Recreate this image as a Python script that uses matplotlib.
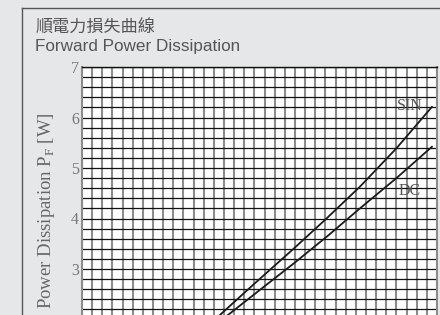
import numpy as np
import matplotlib
matplotlib.use("Agg")
import matplotlib.pyplot as plt
from matplotlib.lines import Line2D

plt.rcParams['mathtext.fontset'] = 'custom'
plt.rcParams['mathtext.rm'] = 'Liberation Serif'

# curve data (x: current, y: power dissipation in W)
x_sin = [2.0, 2.72, 3.4, 4.16, 4.8, 5.48, 6.2, 6.9]
y_sin = [1.45, 2.09, 2.71, 3.39, 3.98, 4.63, 5.39, 6.21]
x_dc = [2.0, 2.88, 3.5, 4.2, 4.85, 5.48, 6.2, 6.9]
y_dc = [1.40, 2.09, 2.58, 3.13, 3.66, 4.20, 4.80, 5.42]

y_ticks = [0, 1, 2, 3, 4, 5, 6, 7]
x_ticks = [0, 1, 2, 3, 4, 5, 6, 7]

title_cn = "順電力損失曲線"
title_en = "Forward Power Dissipation"
ylabel = "Power Dissipation P$_{\\rm F}$ [W]"

bg = "#e6e7e8"
fig = plt.figure(figsize=(4.4, 3.15), dpi=100, facecolor=bg)

# panel frame lines
fig.add_artist(Line2D([22/440, 22/440], [0, 1 - 7.5/315], color="#555555", lw=1.0))
fig.add_artist(Line2D([22/440, 1], [1 - 7.5/315, 1 - 7.5/315], color="#555555", lw=1.0))

fig.text(36/440, 1 - 28/315, title_cn, fontsize=12.3, color="#555555",
         family=['Noto Sans CJK TC', 'DejaVu Sans'], va='center', ha='left')
fig.text(35/440, 1 - 47/315, title_en, fontsize=12.3, color="#555555",
         family='Liberation Sans', va='center', ha='left')

# axes runs below the bottom of the picture (y = 0 is cut off)
ax_top = 1 - 67/315
ax_h = 7 * 50.5 / 315
ax = fig.add_axes([82/440, ax_top - ax_h, 355/440, ax_h])
ax.set_facecolor("white")
ax.set_xlim(0, 7)
ax.set_ylim(0, 7)

ax.set_xticks(x_ticks)
ax.set_yticks(y_ticks)
ax.set_xticks(np.arange(0, 7.01, 0.2), minor=True)
ax.set_yticks(np.arange(0, 7.01, 0.2), minor=True)
ax.tick_params(which='both', length=0)
ax.tick_params(axis='y', pad=2, labelsize=11.5, labelcolor="#777777")
ax.tick_params(axis='x', labelbottom=False)
for t in ax.get_yticklabels():
    t.set_family('Liberation Serif')

ax.xaxis.grid(True, which='both', color="#8c8c8c", lw=1.5)
ax.yaxis.grid(True, which='both', color="#111111", lw=0.9)
ax.xaxis.set_zorder(0.6)
ax.yaxis.set_zorder(0.7)

for side in ['left', 'right', 'bottom']:
    ax.spines[side].set_color("#8c8c8c")
    ax.spines[side].set_linewidth(1.5)
ax.spines['top'].set_color("#111111")
ax.spines['top'].set_linewidth(1.0)

ax.plot(x_sin, y_sin, color="#1a1a1a", lw=1.3, zorder=3)
ax.plot(x_dc, y_dc, color="#1a1a1a", lw=1.3, zorder=3)

ax.text(6.47, 6.23, "SIN", fontsize=11.5, color="#555555", family='Liberation Serif',
        ha='center', va='center', zorder=4)
ax.text(6.47, 4.54, "DC", fontsize=11.5, color="#555555", family='Liberation Serif',
        ha='center', va='center', zorder=4)

fig.text(47/440, 1 - 211/315, ylabel, fontsize=13.5, color="#666666",
         family='Liberation Serif', rotation=90, ha='center', va='center')

fig.savefig("out.png", dpi=100, facecolor=bg)
